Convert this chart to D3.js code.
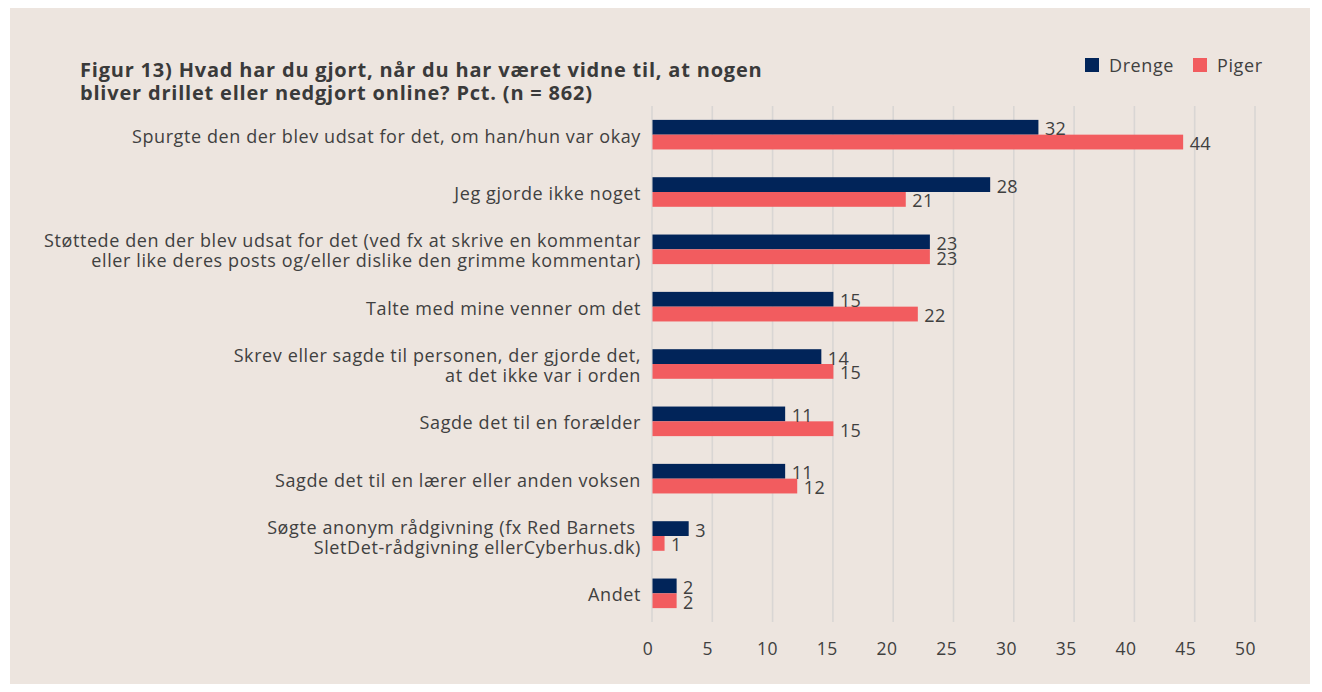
<!DOCTYPE html>
<html>
<head>
<meta charset="utf-8">
<script src="https://cdn.jsdelivr.net/npm/d3@7"></script>
<style>
  body { margin: 0; background: #ffffff; }
  svg text { font-family: "Open Sans", sans-serif; }
</style>
</head>
<body>
<div id="chart"></div>
<script>
// data
var categories = [
  ["Spurgte den der blev udsat for det, om han/hun var okay"],
  ["Jeg gjorde ikke noget"],
  ["Støttede den der blev udsat for det (ved fx at skrive en kommentar", "eller like deres posts og/eller dislike den grimme kommentar)"],
  ["Talte med mine venner om det"],
  ["Skrev eller sagde til personen, der gjorde det,", "at det ikke var i orden"],
  ["Sagde det til en forælder"],
  ["Sagde det til en lærer eller anden voksen"],
  ["Søgte anonym rådgivning (fx Red Barnets ", "SletDet-rådgivning ellerCyberhus.dk)"],
  ["Andet"]
]
var drenge = [32, 28, 23, 15, 14, 11, 11, 3, 2]
var piger = [44, 21, 23, 22, 15, 15, 12, 1, 2]
var series = ["Drenge", "Piger"]
var colors = ["#012459", "#f25c5f"]
var xTicks = [0, 5, 10, 15, 20, 25, 30, 35, 40, 45, 50]

var width = 1322, height = 692

var svg = d3.select('#chart').append('svg')
  .attr('width', width)
  .attr('height', height)

// beige panel
svg.append('rect')
  .attr('x', 10).attr('y', 8)
  .attr('width', 1300).attr('height', 676)
  .attr('fill', '#ede5df')

var plotTop = 106, plotBottom = 622, plotLeft = 652, plotRight = 1255

var x = d3.scaleLinear().domain([0, 50]).range([plotLeft, plotRight])
var y = d3.scaleBand()
  .domain(d3.range(categories.length))
  .range([plotTop, plotBottom])
  .paddingInner(0.484)
  .paddingOuter(0.242)
var ySub = d3.scaleBand().domain(series).range([0, y.bandwidth()])

// gridlines
svg.append('g').selectAll('line')
  .data(xTicks)
  .enter().append('line')
    .attr('x1', function (d) { return x(d) })
    .attr('x2', function (d) { return x(d) })
    .attr('y1', plotTop)
    .attr('y2', plotBottom)
    .attr('stroke', '#d9d6d4')
    .attr('stroke-width', 1.6)

// tick labels (sit a little left of their gridlines in the original)
svg.append('g').selectAll('text')
  .data(xTicks)
  .enter().append('text')
    .attr('x', function (d) { return x(d) - 4 - d * 0.11 })
    .attr('y', 655)
    .attr('text-anchor', 'middle')
    .attr('font-size', 17.5)
    .attr('letter-spacing', 0.4)
    .attr('fill', '#404040')
    .text(function (d) { return d })

// bars
var rows = categories.map(function (c, i) {
  return { i: i, vals: [drenge[i], piger[i]] }
})

var groups = svg.append('g').selectAll('g')
  .data(rows)
  .enter().append('g')
    .attr('transform', function (d) { return 'translate(0,' + y(d.i) + ')' })

groups.selectAll('rect')
  .data(function (d) { return d.vals.map(function (v, k) { return { k: k, v: v } }) })
  .enter().append('rect')
    .attr('x', x(0) + 0.5)
    .attr('y', function (d) { return ySub(series[d.k]) })
    .attr('width', function (d) { return x(d.v) - x(0) })
    .attr('height', ySub.bandwidth())
    .attr('fill', function (d) { return colors[d.k] })

groups.selectAll('text.val')
  .data(function (d) { return d.vals.map(function (v, k) { return { k: k, v: v } }) })
  .enter().append('text')
    .attr('class', 'val')
    .attr('x', function (d) { return x(d.v) + 7 })
    .attr('y', function (d) { return ySub(series[d.k]) + ySub.bandwidth() / 2 + 1 })
    .attr('dominant-baseline', 'central')
    .attr('font-size', 18)
    .attr('letter-spacing', 0.4)
    .attr('fill', '#404040')
    .text(function (d) { return d.v })

// category labels
var lineH = 20
svg.append('g').selectAll('text')
  .data(categories)
  .enter().append('text')
    .attr('text-anchor', 'end')
    .attr('font-size', 18)
    .attr('letter-spacing', 0.6)
    .attr('fill', '#404040')
    .each(function (lines, i) {
      var cy = y(i) + y.bandwidth() / 2 + 1
      var t = d3.select(this)
      lines.forEach(function (l, j) {
        t.append('tspan')
          .attr('x', 641)
          .attr('y', cy + (j - (lines.length - 1) / 2) * lineH)
          .attr('dominant-baseline', 'central')
          .text(l)
      })
    })

// title
var title = svg.append('text')
  .attr('font-size', 20)
  .attr('font-weight', 'bold')
  .attr('letter-spacing', 0.8)
  .attr('fill', '#3a3a3a')
title.append('tspan').attr('x', 80).attr('y', 77).text('Figur 13) Hvad har du gjort, når du har været vidne til, at nogen')
title.append('tspan').attr('x', 80).attr('y', 100).text('bliver drillet eller nedgjort online? Pct. (n = 862)')

// legend
var legendX = [1085, 1193]
var legend = svg.append('g').selectAll('g')
  .data(series)
  .enter().append('g')
    .attr('transform', function (d, i) { return 'translate(' + legendX[i] + ',58)' })
legend.append('rect')
  .attr('width', 14).attr('height', 14)
  .attr('fill', function (d, i) { return colors[i] })
legend.append('text')
  .attr('x', 24).attr('y', 7)
  .attr('dominant-baseline', 'central')
  .attr('font-size', 18)
  .attr('letter-spacing', 0.6)
  .attr('fill', '#404040')
  .text(function (d) { return d })
</script>
</body>
</html>
